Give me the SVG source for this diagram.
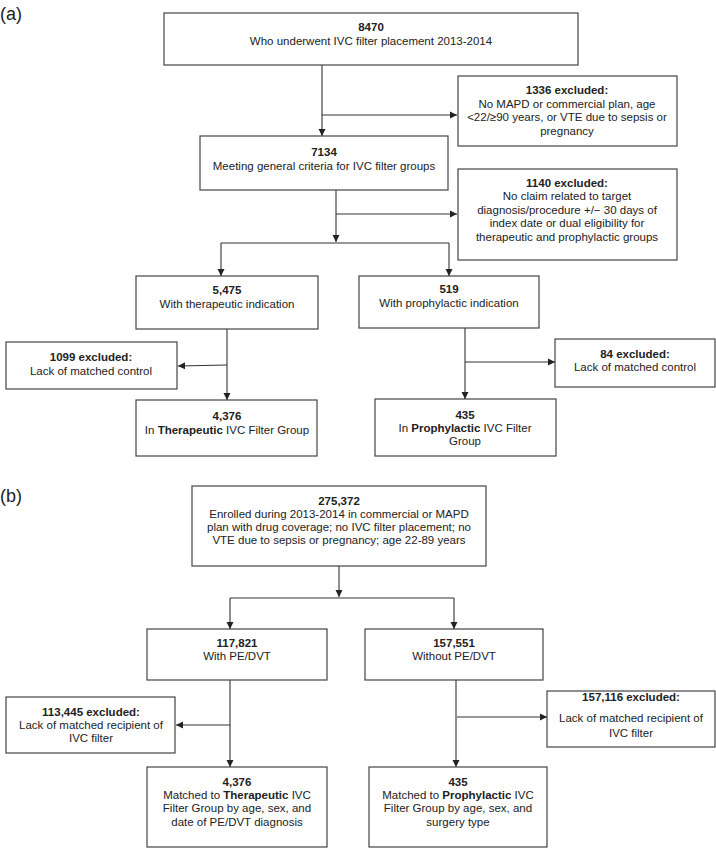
<svg xmlns="http://www.w3.org/2000/svg" width="716" height="848" viewBox="0 0 716 848">
<defs>
<marker id="ah" markerWidth="8" markerHeight="8" refX="7" refY="4" orient="auto" markerUnits="userSpaceOnUse"><path d="M0,0.5 L7,4 L0,7.5 z" fill="#222"/></marker>
<style>
rect{fill:#fff;stroke:#444;stroke-width:1.2}
text{font-family:"Liberation Sans",Arial,sans-serif;font-size:11.5px;fill:#222;text-anchor:middle}
.b{font-weight:bold}
.lab{font-size:18px;text-anchor:start}
#connectors path{fill:none;stroke:#333;stroke-width:1.1}
.a{marker-end:url(#ah)}
</style>
</defs>
<rect x="0" y="0" width="716" height="848" style="fill:#fff;stroke:none"/>
<text class="lab" x="0" y="20">(a)</text>
<text class="lab" x="0" y="502">(b)</text>
<g id="connectors">
<path class="a" d="M322,65 V136"/>
<path class="a" d="M322,115 H457"/>
<path class="a" d="M336,190 V242"/>
<path class="a" d="M336,214 H457"/>
<path d="M221,243 H449"/>
<path class="a" d="M221,243 V276"/>
<path class="a" d="M449,243 V276"/>
<path class="a" d="M227,329 V400"/>
<path class="a" d="M227,365 L178,366"/>
<path class="a" d="M465,328 V399"/>
<path class="a" d="M465,362 H555"/>
<path class="a" d="M339,566 V597"/>
<path d="M230,598 H454"/>
<path class="a" d="M230,598 V629"/>
<path class="a" d="M454,598 V629"/>
<path class="a" d="M230,680 V767"/>
<path class="a" d="M230,725 H176"/>
<path class="a" d="M456,680 V767"/>
<path class="a" d="M457,717 H547"/>
</g>
<g id="n8470"><rect x="164" y="13" width="414" height="52"/><text class="b" x="371" y="31">8470</text><text x="371" y="45">Who underwent IVC filter placement 2013-2014</text></g>
<g id="n1336"><rect x="458" y="76" width="219" height="70"/><text class="b" x="567" y="94">1336 excluded:</text><text x="567" y="108">No MAPD or commercial plan, age</text><text x="567" y="121">&lt;22/≥90 years, or VTE due to sepsis or</text><text x="567" y="135">pregnancy</text></g>
<g id="n7134"><rect x="200" y="136" width="248" height="54"/><text class="b" x="324" y="156">7134</text><text x="324" y="170">Meeting general criteria for IVC filter groups</text></g>
<g id="n1140"><rect x="458" y="169" width="219" height="91"/><text class="b" x="567" y="187">1140 excluded:</text><text x="567" y="200">No claim related to target</text><text x="567" y="214">diagnosis/procedure +/− 30 days of</text><text x="567" y="227">index date or dual eligibility for</text><text x="567" y="241">therapeutic and prophylactic groups</text></g>
<g id="n5475"><rect x="136" y="276" width="182" height="53"/><text class="b" x="227" y="294">5,475</text><text x="227" y="308">With therapeutic indication</text></g>
<g id="n519"><rect x="359" y="276" width="180" height="52"/><text class="b" x="449" y="293">519</text><text x="449" y="307">With prophylactic indication</text></g>
<g id="n1099"><rect x="6" y="342" width="171" height="47"/><text class="b" x="91" y="361">1099 excluded:</text><text x="91" y="375">Lack of matched control</text></g>
<g id="n4376a"><rect x="136" y="400" width="181" height="56"/><text class="b" x="227" y="420">4,376</text><text x="227" y="434">In <tspan class="b">Therapeutic</tspan> IVC Filter Group</text></g>
<g id="n84"><rect x="555" y="339" width="160" height="48"/><text class="b" x="635" y="358">84 excluded:</text><text x="635" y="371">Lack of matched control</text></g>
<g id="n435a"><rect x="375" y="399" width="181" height="57"/><text class="b" x="465" y="419">435</text><text x="465" y="432">In <tspan class="b">Prophylactic</tspan> IVC Filter</text><text x="465" y="445">Group</text></g>
<g id="n275372"><rect x="192" y="486" width="294" height="80"/><text class="b" x="339" y="505">275,372</text><text x="339" y="518">Enrolled during 2013-2014 in commercial or MAPD</text><text x="339" y="531">plan with drug coverage; no IVC filter placement; no</text><text x="339" y="544">VTE due to sepsis or pregnancy; age 22-89 years</text></g>
<g id="n117821"><rect x="147" y="629" width="180" height="51"/><text class="b" x="237" y="647">117,821</text><text x="237" y="660">With PE/DVT</text></g>
<g id="n157551"><rect x="365" y="629" width="178" height="51"/><text class="b" x="454" y="647">157,551</text><text x="454" y="660">Without PE/DVT</text></g>
<g id="n113445"><rect x="6" y="697" width="169" height="56"/><text class="b" x="91" y="716">113,445 excluded:</text><text x="91" y="729">Lack of matched recipient of</text><text x="91" y="742">IVC filter</text></g>
<g id="n157116"><rect x="547" y="691" width="168" height="56"/><text class="b" x="631" y="701">157,116 excluded:</text><text x="631" y="722">Lack of matched recipient of</text><text x="631" y="737">IVC filter</text></g>
<g id="n4376b"><rect x="147" y="767" width="180" height="80"/><text class="b" x="237" y="786">4,376</text><text x="237" y="799">Matched to <tspan class="b">Therapeutic</tspan> IVC</text><text x="237" y="812">Filter Group by age, sex, and</text><text x="237" y="826">date of PE/DVT diagnosis</text></g>
<g id="n435b"><rect x="369" y="767" width="178" height="80"/><text class="b" x="458" y="786">435</text><text x="458" y="799">Matched to <tspan class="b">Prophylactic</tspan> IVC</text><text x="458" y="812">Filter Group by age, sex, and</text><text x="458" y="826">surgery type</text></g>
</svg>
